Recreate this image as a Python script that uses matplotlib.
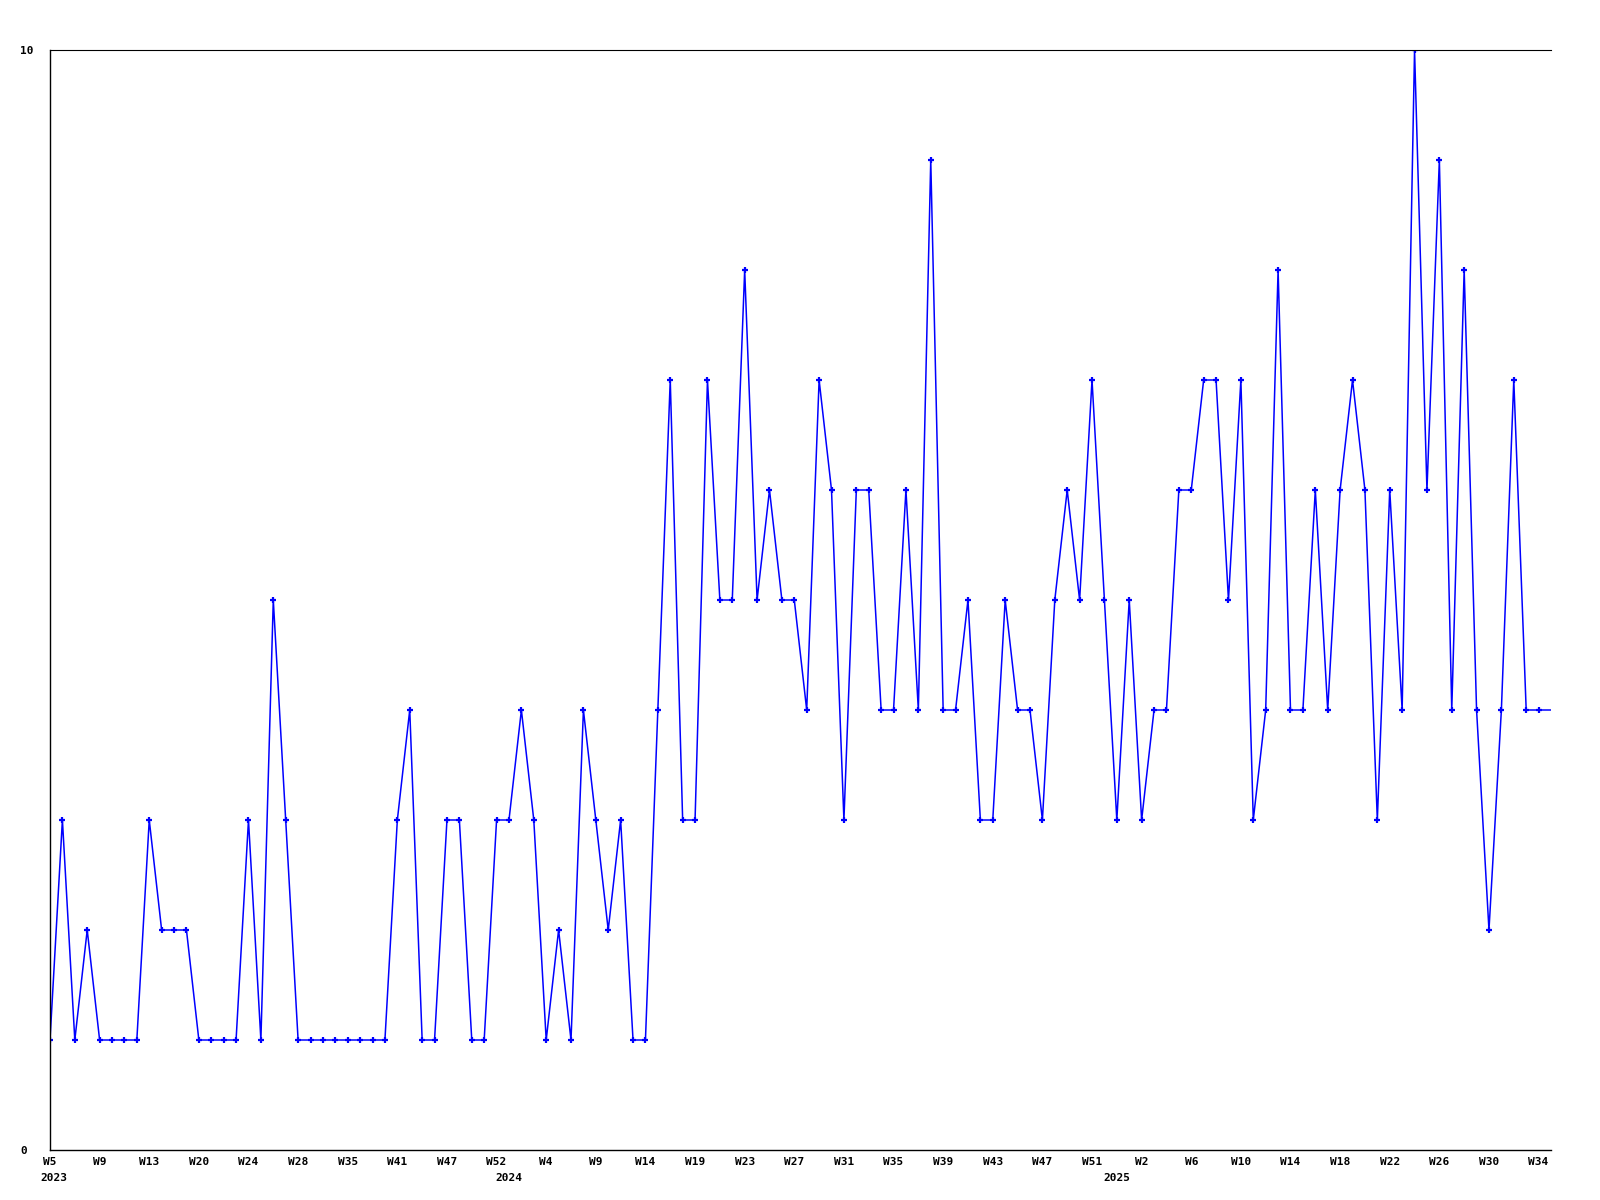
import numpy as np
import matplotlib
matplotlib.use('Agg')
import matplotlib.pyplot as plt

# weekly counts, one per data point (some weeks missing, so x is the point index)
values = [1, 3, 1, 2, 1, 1, 1, 1, 3, 2, 2, 2, 1, 1, 1, 1, 3, 1, 5, 3,
          1, 1, 1, 1, 1, 1, 1, 1, 3, 4, 1, 1, 3, 3, 1, 1, 3, 3, 4, 3,
          1, 2, 1, 4, 3, 2, 3, 1, 1, 4, 7, 3, 3, 7, 5, 5, 8, 5, 6, 5,
          5, 4, 7, 6, 3, 6, 6, 4, 4, 6, 4, 9, 4, 4, 5, 3, 3, 5, 4, 4,
          3, 5, 6, 5, 7, 5, 3, 5, 3, 4, 4, 6, 6, 7, 7, 5, 7, 3, 4, 8,
          4, 4, 6, 4, 6, 7, 6, 3, 6, 4, 10, 6, 9, 4, 8, 4, 2, 4, 7, 4,
          4, 4]

week_labels = ['W5', 'W9', 'W13', 'W20', 'W24', 'W28', 'W35', 'W41', 'W47', 'W52',
               'W4', 'W9', 'W14', 'W19', 'W23', 'W27', 'W31', 'W35', 'W39', 'W43',
               'W47', 'W51', 'W2', 'W6', 'W10', 'W14', 'W18', 'W22', 'W26', 'W30',
               'W34']
label_step = 4

years = ['2023', '2024', '2025']
year_pos = [0, 37, 86]

y_max = 10

font = {'family': 'DejaVu Sans Mono', 'weight': 'bold', 'size': 8}

fig = plt.figure(figsize=(16, 12), dpi=100)
ax = fig.add_axes([50 / 1600, 1 - 1150 / 1200, 1501 / 1600, 1100 / 1200])

x = np.arange(len(values))
# last point sits on the right edge, its marker is cut off in the original
ax.plot(x, values, color='#0000ff', linewidth=1.1, marker='+', markersize=4.5,
        markeredgewidth=1.6, markevery=slice(0, len(values) - 1))

ax.set_xlim(0, len(values) - 1)
ax.set_ylim(0, y_max)

ax.spines['right'].set_visible(False)
ax.spines['top'].set_linewidth(0.8)
ax.spines['left'].set_linewidth(1.0)
ax.spines['bottom'].set_linewidth(1.0)

ax.set_xticks(x[::label_step][:len(week_labels)])
ax.set_xticklabels(week_labels, fontdict=font)
ax.set_yticks([0, y_max])
ax.set_yticklabels(['0', str(y_max)], fontdict=font, ha='left')
ax.tick_params(axis='x', length=0, pad=5)
ax.tick_params(axis='y', length=0, pad=21.6)

for yr, pos in zip(years, year_pos):
    ax.annotate(yr, xy=(pos, 0), xycoords=('data', 'axes fraction'),
                xytext=(0 if pos else 2.5, -16.5), textcoords='offset points',
                ha='center', va='top', **font)

fig.savefig('out.png')
